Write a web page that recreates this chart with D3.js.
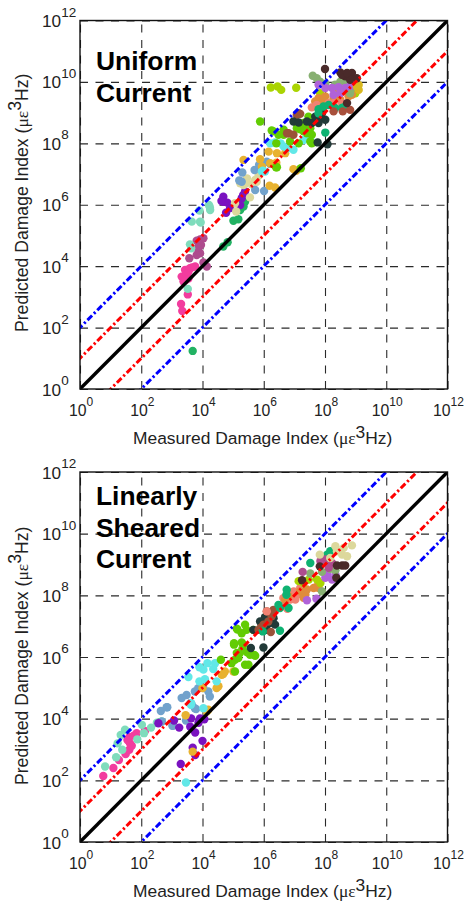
<!DOCTYPE html>
<html>
<head>
<meta charset="utf-8">
<script src="https://cdn.jsdelivr.net/npm/d3@7"></script>
<style>
  html, body { margin: 0; padding: 0; background: #fff; }
  svg { display: block; font-family: "Liberation Sans", Arial, sans-serif; }
</style>
</head>
<body>
<svg width="465" height="902"></svg>
<script>
// every point is [log10 measured, log10 predicted]
const tickExps = [0, 2, 4, 6, 8, 10, 12]
const lineOffsets = [2, 1, 0, -1, -2]

const uPink = [[3.32,3.66],[3.43,3.88],[3.59,3.93],[3.76,3.99],[3.54,3.82],[3.38,3.5],[3.54,3.6],[3.52,3.08],[3.3,2.77],[3.34,2.54],[3.66,3.96],[3.48,3.72],[3.45,3.55]]
const uMauve = [[3.92,4.87],[4.03,4.91],[3.81,4.83],[3.95,4.69],[3.87,4.47],[3.81,4.36],[3.92,4.42],[3.57,4.26],[4.14,3.99],[4.03,4.12],[3.88,4.75],[3.85,4.6]]
const uAqua = [[4.21,5.99],[4.25,5.83],[3.9,5.81],[3.65,5.45],[3.92,5.45],[3.94,5.42],[3.59,4.71],[3.63,4.58],[3.52,3.26],[4.24,5.92]]
const uGreen = [[3.68,1.24],[4.68,4.64],[4.82,4.78],[5.39,6.1],[5.34,5.94],[5.23,5.83],[5.01,5.48],[5.17,5.53],[5.39,6.16],[5.3,6.02]]
const uPurple = [[4.68,6.26],[4.68,6.1],[4.81,6.07],[4.77,5.74],[5.28,6.21],[5.39,6.43],[5.23,5.99],[4.9,5.89],[4.62,6.12],[5.33,6.32]]
const uKhaki = [[5.06,6.05],[5.1,5.78],[5.34,6.64],[5.45,6.86],[5.83,6.94],[5.77,6.75],[5.55,6.24],[5.72,6.81],[5.23,6.7],[5.61,6.67],[5.4,6.68]]
const uBlue = [[5.3,7.05],[5.7,7.13],[6.1,7.4],[5.2,6.79],[5.28,6.75],[5.72,6.48],[6.01,6.45],[6.21,7.33],[5.85,7.3]]
const uAmber = [[5.34,7.46],[5.88,7.48],[6.16,7.73],[6.43,7.68],[6.7,7.68],[6.21,7.35],[6.41,7.37],[6.97,7.16],[7.06,7.11],[5.94,7.24],[6.19,6.62],[6.37,6.56]]
const uCyan = [[6.21,8],[6.37,8.03],[6.65,7.9],[6.97,7.79],[6.76,7.84],[7.3,8.11],[7.52,8.11],[5.94,7.08],[5.97,7.11],[6.04,7.08],[6.55,8]]
const uLime = [[5.88,8.71],[6.26,8.42],[6.65,8.44],[6.65,8.28],[6.86,8.06],[7.08,8.49],[7.19,8.46],[7.3,8.55],[7.46,8.87],[7.41,8.44],[7.52,8.06],[7.57,8],[6.41,8],[7.14,8],[6.43,7.22],[7.21,7.19],[6.4,7.22],[7.08,8.66],[7.3,8.66],[7.14,8.55],[7.52,8.49],[7.41,8.33],[6.48,8.28],[6.32,8.39],[7.57,8.28],[7.3,8.39]]
const uYellow = [[6.23,9.82],[6.45,9.85],[6.57,9.74],[7.06,9.81],[7.84,9.63],[8.39,9.69],[8.99,9.8],[8.82,9.8],[8.99,9.63]]
const uBrown = [[6.81,8.33],[6.97,8.28],[7.08,8.93],[7.19,8.96],[7.14,8.98],[6.76,8.33]]
const uDark = [[6.97,8.71],[7.14,8.68],[7.41,8.71],[7.57,8.66],[7.68,8.87],[7.84,8.82],[8.01,8.77],[7.9,8.98],[7.79,8.66],[7.76,8.03],[8.08,7.97]]
const uOrange = [[7.79,9.47],[8.01,9.53],[7.68,9.36],[7.9,9.36],[8.28,9.47],[8.5,9.42],[8.77,9.53],[8.88,9.58],[8.44,9.63],[7.95,9.42]]
const uSalmon = [[7.57,9.17],[7.73,9.25],[8.12,9.31],[8.28,9.31],[8.55,9.31]]
const uSea = [[7.79,9.11],[7.95,9.2],[8.12,9.25],[8.33,9.15],[8.66,9.2],[8.55,9.15],[7.79,8.98],[8.01,8.35]]
const uRust = [[8.28,9.04],[8.58,9.04],[8.82,9.09]]
const uSage = [[7.6,10.2],[7.73,10.12],[7.84,10.01],[8.01,9.94],[8.33,9.91],[8.5,10.01],[8.72,9.96],[8.88,9.8],[8.82,9.63]]
const uOrchid = [[7.79,9.91],[8.01,9.8],[8.23,9.8],[8.44,9.83],[8.66,9.8],[8.82,9.87],[8.5,9.63],[8.28,9.58],[8.99,9.91]]
const uGold = [[9.04,9.85],[9.1,9.74],[9.1,9.9]]
const uBrownDark = [[8,10.42],[8.5,10.31],[8.66,10.18],[8.88,10.29],[9.04,10.12],[8.82,10.07],[8.55,10.23],[8.72,9.31],[8.72,10.29]]

const sPink = [[0.76,2.14],[1.09,2.4],[1.27,2.66],[1.49,2.85],[1.61,2.99],[1.63,3.2],[1.61,3.4],[1.85,3.53],[2.12,3.6],[1.69,3.12],[1.55,3.31],[1.75,3.45]]
const sAqua = [[0.82,2.45],[1.18,2.75],[1.38,2.99],[1.23,3.2],[1.33,3.47],[1.47,3.64],[1.87,3.33],[2.09,3.53],[2.02,3.8],[2.32,3.71],[2.51,3.87],[2.67,3.91]]
const sPurple = [[2.56,3.85],[3.07,3.94],[3.24,3.71],[3.63,4.01],[3.6,3.74],[3.92,4.01],[4.06,3.98],[3.87,3.87],[3.76,3.55],[4,3.28],[3.68,3.06],[3.76,2.82],[3.29,2.53]]
const sBlue = [[2.64,4.25],[2.85,4.37],[2.67,3.91],[3.03,3.77],[3.46,3.94],[3.65,4.45],[3.79,4.31],[3.32,4.67],[3.48,4.77],[3.75,4.88],[3.86,4.99],[4.03,4.99],[4.19,4.88],[4.24,4.72],[3.61,4.5],[3.75,4.34],[2.83,4.37],[3.02,3.77]]
const sAmber = [[3.45,4.11],[3.68,2.93],[4.14,4.23],[4,4.99],[4.52,5.05],[4.46,4.99],[4.63,5.42],[4.73,5.53],[5.01,5.53],[4.19,4.29],[4.68,5.45]]
const sCyan = [[3.46,1.93],[3.63,4.5],[4.03,4.34],[3.9,5.67],[3.54,5.35],[3.9,5.21],[4.08,5.28],[4.03,5.59],[4.16,5.8],[4.41,5.8],[4.35,5.61],[4.46,5.21],[3.62,4.45]]
const sLime = [[4.6,5.91],[5.06,5.91],[5.22,6.13],[5.03,6.4],[5.28,6.47],[5.14,6.89],[5.46,6.15],[5.68,6.07],[5.55,6.13],[5.39,5.75],[5.5,5.75],[5.06,5.53],[4.95,5.8],[5.17,5.97],[5.12,6.92],[5.39,7.05],[5.44,6.88],[5.66,6.88],[5.28,6.77],[5.03,6.45],[5.34,6.4],[5.12,6.13],[5.55,6.07],[5.72,6.04],[5.3,6.25]]
const sDark = [[5.58,6.29],[5.99,6.31],[6.04,7.29],[5.88,7.15],[6.32,7.26],[6.37,7.05],[5.66,6.88],[6.1,6.88],[6.2,7.1]]
const sBrown = [[5.83,6.88],[5.99,7.05],[6.15,7.15],[6.26,7.32],[6.32,7.53],[6.23,6.81],[6.1,7.48],[5.9,6.95]]
const sSalmon = [[6.1,7.48],[6.77,7.56],[6.98,8.13],[7.08,8.02],[6.87,7.86],[6.7,7.75],[7.03,7.86],[7.19,8.24],[6.64,7.91]]
const sOrange = [[7.19,8.13],[7.36,8.02],[7.3,7.92],[7.41,8.19],[6.7,7.86],[6.81,7.97],[7.63,8.24],[7.74,8.29],[7.79,8.24]]
const sSea = [[5.97,6.83],[6.53,6.85],[6.48,7.69],[6.75,8.18],[6.53,7.59],[6.81,7.59],[6.74,8.02],[7.52,9.05],[8.07,9.32],[8.17,9.43],[7.96,9.16],[8.12,9.05]]
const sYellow = [[7.14,8.46],[7.47,8.51],[7.74,8.51],[7.85,8.4],[7.3,8.4]]
const sOrchid = [[8.01,8.57],[8.23,8.51],[8.07,8.67],[8.34,8.67],[7.41,7.84],[7.72,7.89]]
const sSage = [[7.52,8.71],[7.9,8.76],[8.17,8.86],[7.9,8.13],[8.34,8.81]]
const sMauve = [[7.85,9.11],[8.01,9.16],[8.23,9.05],[7.27,8.76],[8.12,8.89]]
const sBrownDark = [[7.83,8.94],[8.39,8.97],[8.56,8.97],[8.66,8.97],[8.37,8.57],[7.25,8.49]]
const sKhaki = [[7.83,9.32],[8.39,9.43],[8.61,9.54],[8.88,9.62],[8.34,9.59],[8.56,9.32],[8.72,9.27],[8.17,9.21]]

const colors = {
  pink: '#f23c9e', mauve: '#ae4c8e', aqua: '#7fdcbc', green: '#22b263', purple: '#7a12c0',
  khaki: '#dcd89c', blue: '#72a2cc', amber: '#e8b230', cyan: '#62e8e8', lime: '#62cc04',
  yellow: '#aad402', brown: '#9a5238', dark: '#223a38', sea: '#0eb272', salmon: '#f08272',
  orange: '#e08c3c', rust: '#a8503c', orchid: '#b062d8', sage: '#88b072', gold: '#d8b820',
  brownDark: '#4a2a2a'
}

const uniformSets = [
  ['pink', uPink], ['mauve', uMauve], ['aqua', uAqua], ['green', uGreen], ['purple', uPurple],
  ['khaki', uKhaki], ['blue', uBlue], ['amber', uAmber], ['cyan', uCyan], ['lime', uLime],
  ['yellow', uYellow], ['brown', uBrown], ['dark', uDark], ['orange', uOrange], ['salmon', uSalmon],
  ['sea', uSea], ['rust', uRust], ['sage', uSage], ['orchid', uOrchid], ['gold', uGold], ['brownDark', uBrownDark]
]
const shearedSets = [
  ['pink', sPink], ['aqua', sAqua], ['blue', sBlue], ['purple', sPurple], ['amber', sAmber],
  ['cyan', sCyan], ['lime', sLime], ['dark', sDark], ['brown', sBrown], ['salmon', sSalmon],
  ['orange', sOrange], ['sea', sSea], ['yellow', sYellow], ['orchid', sOrchid], ['sage', sSage],
  ['mauve', sMauve], ['brownDark', sBrownDark], ['khaki', sKhaki]
]

const svg = d3.select('svg')
const pow = e => Math.pow(10, e)

const drawPanel = (sets, labels, top, bottom, labelBaselines) => {
  const left = 80
  const right = 447.5

  const xScale = d3.scaleLog().domain([1, 1e12]).range([left, right])
  const yScale = d3.scaleLog().domain([1, 1e12]).range([bottom, top])

  const clipId = 'clip' + top
  svg.append('clipPath').attr('id', clipId)
    .append('rect')
    .attr('x', left).attr('y', top)
    .attr('width', right - left).attr('height', bottom - top)

  const xAxis = d3.axisBottom(xScale)
    .tickValues(tickExps.map(pow))
    .tickSize(-(bottom - top))
  const yAxis = d3.axisLeft(yScale)
    .tickValues(tickExps.map(pow))
    .tickSize(-(right - left))

  const xGroup = svg.append('g')
    .attr('transform', `translate(0, ${bottom})`)
    .call(xAxis)
  const yGroup = svg.append('g')
    .attr('transform', `translate(${left}, 0)`)
    .call(yAxis)

  svg.selectAll('.domain').remove()

  const styleTicks = group => {
    group.selectAll('.tick line')
      .attr('stroke', '#2a2a2a')
      .attr('stroke-width', 1.1)
      .attr('stroke-dasharray', '8,7.5')
  }
  styleTicks(xGroup)
  styleTicks(yGroup)

  const powerLabel = (text, exp, size, supSize) => {
    text.text('10')
      .attr('font-family', '"Liberation Sans", Arial, sans-serif')
      .attr('font-size', size)
      .attr('fill', '#222')
    text.append('tspan')
      .attr('dy', -10.5)
      .attr('font-size', supSize)
      .text(exp)
  }

  // the 10^12 label on the x axis has to stay inside the page
  xGroup.selectAll('.tick text').each(function (d) {
    const exp = Math.round(Math.log10(d))
    const text = d3.select(this)
      .attr('text-anchor', 'start')
      .attr('x', exp >= 10 ? -15 : -11.5)
      .attr('y', 27)
      .attr('dy', 0)
    powerLabel(text, exp, 15.8, 12)
  })
  yGroup.selectAll('.tick text').each(function (d) {
    const exp = Math.round(Math.log10(d))
    const text = d3.select(this)
      .attr('text-anchor', 'start')
      .attr('x', -38)
      .attr('y', 6)
      .attr('dy', 0)
    powerLabel(text, exp, 17.2, 13.5)
  })

  // measured points, one group per test series
  sets.forEach(([name, points]) => {
    svg.append('g')
      .selectAll('circle').data(points)
      .enter().append('circle')
      .attr('cx', d => xScale(pow(d[0])))
      .attr('cy', d => yScale(pow(d[1])))
      .attr('r', 4.2)
      .attr('fill', colors[name])
  })

  const lineFor = offset => d3.line()
    .x(d => xScale(pow(d)))
    .y(d => yScale(pow(d + offset)))

  lineOffsets.forEach(offset => {
    const size = Math.abs(offset)
    svg.append('path')
      .attr('clip-path', `url(#${clipId})`)
      .attr('d', lineFor(offset)([-2, 14]))
      .attr('fill', 'none')
      .attr('stroke', size === 0 ? '#000' : size === 1 ? '#f00' : '#00f')
      .attr('stroke-width', size === 0 ? 3.4 : 3)
      .attr('stroke-dasharray', size === 0 ? null : '6.5,2.6,2.2,2.6')
  })

  svg.append('rect')
    .attr('x', left).attr('y', top)
    .attr('width', right - left).attr('height', bottom - top)
    .attr('fill', 'none')
    .attr('stroke', '#111')
    .attr('stroke-width', 1.4)

  labels.forEach((label, i) => {
    svg.append('text')
      .attr('x', 96)
      .attr('y', labelBaselines[i])
      .attr('font-size', 26.4)
      .attr('font-weight', 'bold')
      .attr('fill', '#000')
      .text(label)
  })

  const axisTitle = (selection, name, size) => {
    selection.attr('font-size', size).attr('fill', '#222')
    selection.append('tspan').text(name + ' Damage Index (')
    selection.append('tspan').attr('font-family', '"Liberation Serif", "DejaVu Serif", serif').text('\u03bc\u03b5')
    selection.append('tspan').attr('dy', -6.5).text('3')
    selection.append('tspan').attr('dy', 6.5).text('Hz)')
  }

  svg.append('text')
    .attr('x', 133)
    .attr('y', bottom + 55)
    .call(axisTitle, 'Measured', 17.4)

  svg.append('text')
    .attr('transform', `translate(27.5, ${bottom - 57}) rotate(-90)`)
    .call(axisTitle, 'Predicted', 17.6)
}

drawPanel(uniformSets, ['Uniform', 'Current'], 20.5, 389, [70, 102])
drawPanel(shearedSets, ['Linearly', 'Sheared', 'Current'], 472, 842, [505, 537, 568])
</script>
</body>
</html>
